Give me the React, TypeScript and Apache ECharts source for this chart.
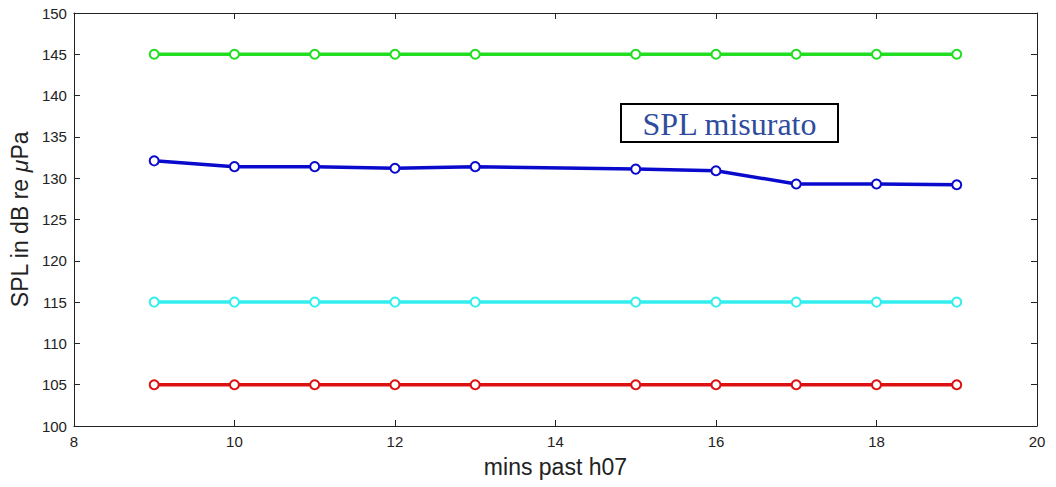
import React, { useEffect, useRef } from "react";
import * as echarts from "echarts";

const minutes = [9, 10, 11, 12, 13, 15, 16, 17, 18, 19];
const splGreen = [145, 145, 145, 145, 145, 145, 145, 145, 145, 145];
const splBlue = [132.1, 131.4, 131.4, 131.2, 131.4, 131.1, 130.9, 129.3, 129.3, 129.2];
const splCyan = [115, 115, 115, 115, 115, 115, 115, 115, 115, 115];
const splRed = [105, 105, 105, 105, 105, 105, 105, 105, 105, 105];

const pair = (ys: number[]) => minutes.map((m, i) => [m, ys[i]]);

export default function App() {
  const ref = useRef<HTMLDivElement>(null);
  useEffect(() => {
    document.body.style.margin = "0";
    const chart = echarts.init(ref.current!, null, { renderer: "svg" });
    const font = "'Liberation Sans', Arial, sans-serif";
    const mk = (name: string, data: number[], color: string) => ({
      name,
      type: "line",
      data: pair(data),
      symbol: "emptyCircle",
      symbolSize: 9,
      lineStyle: { color, width: 3.5 },
      itemStyle: { color, borderColor: color, borderWidth: 3 },
      z: 3,
    });
    chart.setOption({
      animation: false,
      backgroundColor: "#ffffff",
      grid: { left: 72, right: 19, top: 13, bottom: 61, containLabel: false },
      xAxis: [
        {
          type: "value",
          min: 8,
          max: 20,
          interval: 2,
          position: "bottom",
          name: "mins past h07",
          nameLocation: "middle",
          nameGap: 29,
          nameTextStyle: { fontFamily: font, fontSize: 23, color: "#222" },
          axisLine: { show: true, onZero: false, lineStyle: { color: "#222", width: 1 } },
          axisTick: { show: true, inside: true, length: 6, lineStyle: { color: "#222" } },
          axisLabel: { fontFamily: font, fontSize: 15, color: "#222", margin: 8 },
          splitLine: { show: false },
        },
        {
          type: "value",
          min: 8,
          max: 20,
          interval: 2,
          position: "top",
          axisLine: { show: true, onZero: false, lineStyle: { color: "#222", width: 1 } },
          axisTick: { show: true, inside: true, length: 6, lineStyle: { color: "#222" } },
          axisLabel: { show: false },
          splitLine: { show: false },
        },
      ],
      yAxis: [
        {
          type: "value",
          min: 100,
          max: 150,
          interval: 5,
          position: "left",
          name: "SPL in dB re {i|μ}Pa",
          nameLocation: "middle",
          nameGap: 42,
          nameTextStyle: {
            fontFamily: font,
            fontSize: 23,
            color: "#222",
            rich: { i: { fontFamily: font, fontSize: 23, fontStyle: "italic", color: "#222" } },
          },
          axisLine: { show: true, onZero: false, lineStyle: { color: "#222", width: 1 } },
          axisTick: { show: true, inside: true, length: 6, lineStyle: { color: "#222" } },
          axisLabel: { fontFamily: font, fontSize: 15, color: "#222", margin: 7 },
          splitLine: { show: false },
        },
        {
          type: "value",
          min: 100,
          max: 150,
          interval: 5,
          position: "right",
          axisLine: { show: true, onZero: false, lineStyle: { color: "#222", width: 1 } },
          axisTick: { show: true, inside: true, length: 6, lineStyle: { color: "#222" } },
          axisLabel: { show: false },
          splitLine: { show: false },
        },
      ],
      series: [
        mk("green", splGreen, "#22dd22"),
        mk("blue", splBlue, "#0a0acc"),
        mk("cyan", splCyan, "#33eeee"),
        mk("red", splRed, "#dd1111"),
      ],
      graphic: [
        {
          type: "group",
          left: 620,
          top: 103,
          children: [
            {
              type: "rect",
              shape: { x: 0, y: 0, width: 217, height: 38 },
              style: { fill: "#ffffff", stroke: "#000", lineWidth: 2 },
            },
            {
              type: "text",
              x: 108.5,
              y: 20,
              style: {
                text: "SPL misurato",
                fontFamily: "'Liberation Serif', 'Times New Roman', serif",
                fontSize: 32,
                fill: "#2e4c9e",
                align: "center",
                verticalAlign: "middle",
              },
            },
          ],
        },
      ],
    });
    return () => chart.dispose();
  }, []);
  return <div ref={ref} style={{ width: 1056, height: 487 }} />;
}
